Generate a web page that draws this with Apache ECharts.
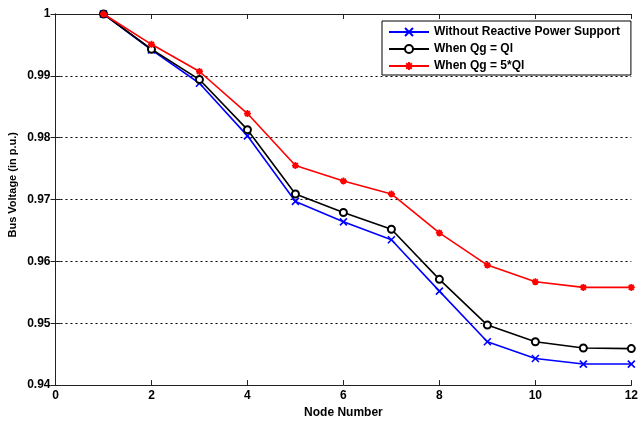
<!DOCTYPE html>
<html><head><meta charset="utf-8">
<script src="https://cdn.jsdelivr.net/npm/echarts@6/dist/echarts.min.js"></script>
<style>html,body{margin:0;padding:0;background:#fff}#c{width:641px;height:424px}</style>
</head><body><div id="c"></div>
<script>
const nodes = [1,2,3,4,5,6,7,8,9,10,11,12];
const withoutSupport = [1.0000,0.9942,0.9888,0.9803,0.9697,0.9664,0.9635,0.9552,0.9470,0.9443,0.9434,0.9434];
const qgEqualsQl = [1.0000,0.9943,0.9894,0.9813,0.9709,0.9679,0.9652,0.9571,0.9497,0.9470,0.9460,0.9459];
const qgFiveQl = [1.0000,0.9951,0.9907,0.9839,0.9755,0.9730,0.9709,0.9646,0.9594,0.9567,0.9558,0.9558];
const seriesNames = ['Without Reactive Power Support','When Qg = Ql','When Qg = 5*Ql'];

const font = 'Liberation Sans, Arial, sans-serif';
const pair = (vals) => nodes.map((n,i)=>[n, vals[i]]);
const xSym = 'path://M0 0L10 10M10 0L0 10';
const starSym = 'path://M5 0L5 10M0 5L10 5M1.5 1.5L8.5 8.5M8.5 1.5L1.5 8.5';

const chart = echarts.init(document.getElementById('c'), null, {renderer:'canvas'});
const axisLine = {show:true, lineStyle:{color:'#222', width:1}};
chart.setOption({
  animation:false,
  backgroundColor:'#fff',
  grid:{left:55.5, right:6, top:14, bottom:38, containLabel:false},
  legend:{
    left:382, top:21, orient:'vertical', itemWidth:40, itemHeight:10, itemGap:5,
    padding:[5,11,3,6], borderColor:'#000', borderWidth:1, backgroundColor:'#fff',
    textStyle:{fontFamily:font, fontWeight:'bold', fontSize:12, color:'#000'},
    data:seriesNames
  },
  graphic:[{
    type:'text', left:7, top:132, rotation:Math.PI/2,
    style:{text:'Bus Voltage (in p.u.)', fontFamily:font, fontWeight:'bold', fontSize:11, fill:'#000'}
  }],
  xAxis:[{
    type:'value', min:0, max:12, interval:2, position:'bottom',
    name:'Node Number', nameLocation:'middle', nameGap:19,
    nameTextStyle:{fontFamily:font, fontWeight:'bold', fontSize:12, color:'#000'},
    axisLine:axisLine, axisTick:{show:true, inside:true, length:5, lineStyle:{color:'#222'}},
    axisLabel:{fontFamily:font, fontWeight:'bold', fontSize:12, color:'#000', margin:5},
    splitLine:{show:false}
  },{
    type:'value', min:0, max:12, interval:2, position:'top',
    axisLine:axisLine, axisTick:{show:true, inside:true, length:5, lineStyle:{color:'#222'}},
    axisLabel:{show:false}, splitLine:{show:false}
  }],
  yAxis:[{
    type:'value', min:0.94, max:1, interval:0.01, position:'left',
    axisLine:axisLine, axisTick:{show:true, inside:true, length:5, lineStyle:{color:'#222'}},
    axisLabel:{fontFamily:font, fontWeight:'bold', fontSize:12, color:'#000', margin:5,
      formatter:(v)=>String(parseFloat(v.toFixed(2)))},
    splitLine:{show:true, lineStyle:{color:'#000', type:[2,3], width:1}}
  },{
    type:'value', min:0.94, max:1, interval:0.01, position:'right',
    axisLine:axisLine, axisTick:{show:true, inside:true, length:5, lineStyle:{color:'#222'}},
    axisLabel:{show:false}, splitLine:{show:false}
  }],
  series:[
    {name:seriesNames[0], type:'line', data:pair(withoutSupport), symbol:xSym, symbolSize:7,
     lineStyle:{color:'#0000ff', width:1.6}, itemStyle:{color:'#0000ff', borderColor:'#0000ff', borderWidth:1.6}, z:3},
    {name:seriesNames[1], type:'line', data:pair(qgEqualsQl), symbol:'emptyCircle', symbolSize:7,
     lineStyle:{color:'#000', width:1.6}, itemStyle:{color:'#000', borderColor:'#000', borderWidth:1.3}, z:4},
    {name:seriesNames[2], type:'line', data:pair(qgFiveQl), symbol:starSym, symbolSize:7,
     lineStyle:{color:'#ff0000', width:1.6}, itemStyle:{color:'#ff0000', borderColor:'#ff0000', borderWidth:1.8}, z:5}
  ]
});
</script></body></html>
